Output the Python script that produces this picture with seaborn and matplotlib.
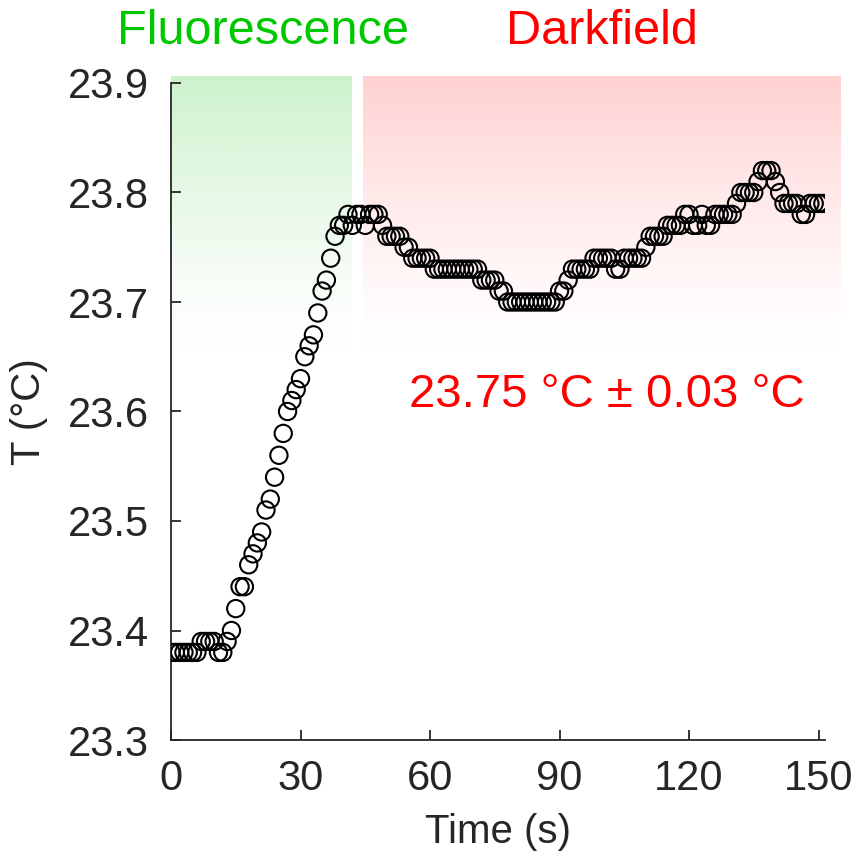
import numpy as np
import pandas as pd
import matplotlib
matplotlib.use("Agg")
import matplotlib.pyplot as plt
import seaborn as sns

# ---- data ----
time_s = list(range(0, 152))
temp_c = (
    [23.38] * 7 + [23.39] * 4 + [23.38] * 2 +
    [23.39, 23.40, 23.42, 23.44, 23.44, 23.46, 23.47, 23.48, 23.49, 23.51,
     23.52, 23.54, 23.56, 23.58, 23.60, 23.61, 23.62, 23.63, 23.65, 23.66,
     23.67, 23.69, 23.71, 23.72, 23.74, 23.76, 23.77, 23.77, 23.78, 23.77,
     23.78, 23.78, 23.77, 23.78, 23.78, 23.78, 23.77, 23.76, 23.76, 23.76,
     23.76, 23.75, 23.75] +
    [23.74] * 5 + [23.73] * 11 + [23.72] * 4 + [23.71] * 2 + [23.70] * 12 +
    [23.71, 23.71, 23.72] + [23.73] * 5 + [23.74] * 5 + [23.73] * 2 +
    [23.74] * 5 + [23.75] + [23.76] * 4 + [23.77] * 4 +
    [23.78, 23.78, 23.77, 23.77, 23.78, 23.77, 23.77, 23.78, 23.78, 23.78,
     23.78, 23.78, 23.79, 23.80, 23.80, 23.80, 23.80, 23.81, 23.82, 23.82,
     23.82, 23.81, 23.80, 23.79, 23.79, 23.79, 23.79, 23.78, 23.78, 23.79,
     23.79, 23.79, 23.79]
)
x_ticks = [0, 30, 60, 90, 120, 150]
y_ticks = [23.3, 23.4, 23.5, 23.6, 23.7, 23.8, 23.9]
fluor_span = (0, 41.7)
dark_span = (44.4, 155)
stat_label = "23.75 °C ± 0.03 °C"

n = min(len(time_s), len(temp_c))
df = pd.DataFrame({"Time (s)": time_s[:n], "T (°C)": temp_c[:n]})

sns.set_theme(style="white")
plt.rcParams["font.family"] = ["Liberation Sans", "DejaVu Sans"]

fig = plt.figure(figsize=(8.59, 8.59), dpi=100)
ax = fig.add_axes([171 / 859, 119 / 859, 654 / 859, 657 / 859])

# gradient shaded regions
def grad(color, x0, x1, y0=23.655, y1=23.906):
    g = np.linspace(0, 1, 256)[:, None]  # bottom->top
    rgba = np.zeros((256, 2, 4))
    rgba[..., 0] = color[0]
    rgba[..., 1] = color[1]
    rgba[..., 2] = color[2]
    rgba[..., 3] = g ** 1.3
    ax.imshow(rgba, extent=(x0, x1, y0, y1), origin="lower", aspect="auto",
              zorder=0, clip_on=False, interpolation="bilinear")

grad((0.80, 0.95, 0.80), *fluor_span)
grad((1.0, 0.82, 0.82), *dark_span)

sns.scatterplot(data=df, x="Time (s)", y="T (°C)", ax=ax, marker="o",
                s=155, facecolors="none", edgecolor="black", linewidth=1.5,
                zorder=3, legend=False)

ax.set_xlim(0, 151.5)
ax.set_ylim(23.3, 23.9)
ax.set_xticks(x_ticks)
ax.set_yticks(y_ticks)
ax.set_yticklabels([f"{v:.1f}" for v in y_ticks])
ax.tick_params(bottom=True, left=True, direction="in", length=7, width=1.3,
               colors="#262626", labelsize=30, pad=14)
ax.tick_params(axis="y", pad=16)
for lab in ax.get_xticklabels() + ax.get_yticklabels():
    lab.set_color("#262626")
for s in ["top", "right"]:
    ax.spines[s].set_visible(False)
for s in ["left", "bottom"]:
    ax.spines[s].set_color("#262626")
    ax.spines[s].set_linewidth(1.3)
ax.set_facecolor("white")
ax.set_xlabel("Time (s)", fontsize=29, color="#262626", labelpad=10)
ax.set_ylabel("T (°C)", fontsize=29, color="#262626", labelpad=14)

fig.text(263 / 859, 1 - 32 / 859, "Fluorescence", color="#00C800",
         fontsize=35, ha="center", va="center")
fig.text(602 / 859, 1 - 32 / 859, "Darkfield", color="#FF0000",
         fontsize=35, ha="center", va="center")
fig.text(607 / 859, 1 - 395 / 859, stat_label, color="#FF0000",
         fontsize=34, ha="center", va="center")

fig.savefig("out.png", dpi=100)
